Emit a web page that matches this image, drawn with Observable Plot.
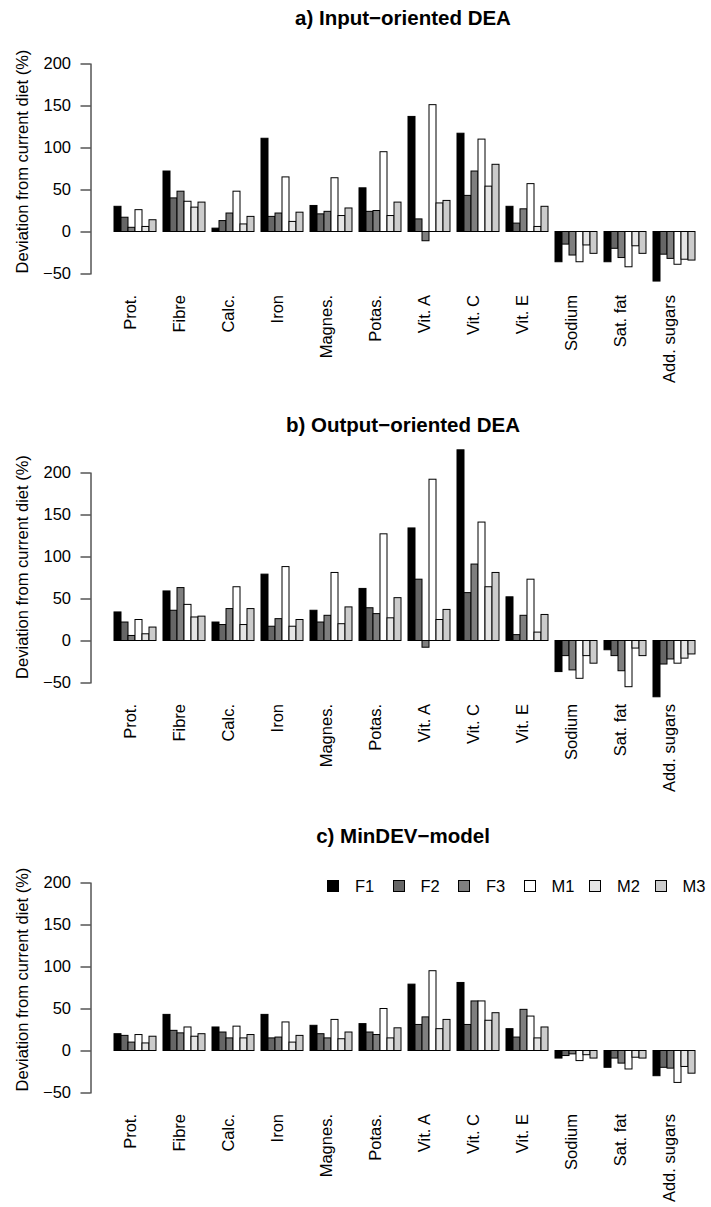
<!DOCTYPE html>
<html>
<head>
<meta charset="utf-8">
<script src="https://cdn.jsdelivr.net/npm/d3@7"></script>
<script src="https://cdn.jsdelivr.net/npm/@observablehq/plot@0.6"></script>
<style>
  html, body { margin: 0; padding: 0; background: #fff; }
  #root { position: relative; width: 711px; height: 1207px; overflow: hidden;
          font-family: "Liberation Sans", Arial, Helvetica, sans-serif; color: #000; }
  .panel { position: absolute; left: 0; }
  .title { position: absolute; left: 403px; transform: translateX(-50%); font-weight: bold;
           font-size: 20.5px; line-height: 20.5px; white-space: nowrap; }
  .legend { position: absolute; left: 327px; display: flex; font-size: 16.5px; line-height: 16.5px; }
  .item { width: 65.5px; display: flex; align-items: center; }
  .sw { width: 10px; height: 10px; border: 1px solid #000; margin-right: 16px; flex: none; }
</style>
</head>
<body>
<div id="root"></div>
<script>
// ---------- data ----------
const nutrients = ["Prot.", "Fibre", "Calc.", "Iron", "Magnes.", "Potas.", "Vit. A", "Vit. C", "Vit. E", "Sodium", "Sat. fat", "Add. sugars"];
const series = ["F1", "F2", "F3", "M1", "M2", "M3"];
const fills = ["#000000", "#666666", "#7f7f7f", "#ffffff", "#e5e5e5", "#cccccc"];
const yTicks = [-50, 0, 50, 100, 150, 200];
const yLabel = "Deviation from current diet (%)";
const titles = ["a) Input\u2212oriented DEA", "b) Output\u2212oriented DEA", "c) MinDEV\u2212model"];

// a) Input-oriented DEA
const inputF1 = [30, 72, 4, 111, 31, 52, 137, 117, 30, -36, -36, -59];
const inputF2 = [17, 40, 13, 18, 21, 24, 15, 43, 10, -15, -20, -27];
const inputF3 = [5, 48, 22, 22, 24, 25, -11, 72, 27, -28, -31, -32];
const inputM1 = [26, 36, 48, 65, 64, 95, 151, 110, 57, -36, -42, -39];
const inputM2 = [6, 29, 9, 12, 19, 19, 34, 54, 6, -16, -17, -33];
const inputM3 = [14, 35, 18, 23, 28, 35, 37, 80, 30, -26, -26, -34];

// b) Output-oriented DEA
const outputF1 = [34, 59, 22, 79, 36, 62, 134, 227, 52, -37, -11, -67];
const outputF2 = [22, 36, 19, 17, 22, 39, 73, 57, 7, -18, -18, -28];
const outputF3 = [6, 63, 38, 26, 30, 32, -8, 91, 30, -35, -36, -22];
const outputM1 = [25, 43, 64, 88, 81, 127, 192, 141, 73, -45, -55, -27];
const outputM2 = [8, 28, 19, 17, 20, 27, 25, 64, 10, -18, -9, -21];
const outputM3 = [16, 29, 38, 25, 40, 51, 37, 81, 31, -27, -18, -16];

// c) MinDEV-model
const mindevF1 = [20, 43, 28, 43, 30, 32, 79, 81, 26, -9, -20, -30];
const mindevF2 = [18, 24, 22, 15, 20, 22, 31, 31, 16, -6, -9, -20];
const mindevF3 = [10, 21, 15, 16, 15, 19, 40, 59, 49, -4, -15, -21];
const mindevM1 = [19, 28, 29, 34, 37, 50, 95, 59, 41, -12, -22, -38];
const mindevM2 = [9, 17, 15, 10, 14, 15, 26, 36, 15, -5, -8, -19];
const mindevM3 = [17, 20, 19, 18, 22, 27, 37, 45, 28, -9, -9, -27];

// ---------- build ----------
function rows(arrays) {
  const out = [];
  nutrients.forEach((n, i) => series.forEach((s, j) =>
    out.push({nutrient: n, series: s, key: n + "|" + s, value: arrays[j][i]})));
  return out;
}
const slotDomain = nutrients.flatMap(n => [n + "|gap", ...series.map(s => n + "|" + s)]);
const font = '"Liberation Sans", Arial, Helvetica, sans-serif';

function panel(arrays, cfg) {
  return Plot.plot({
    width: 711,
    height: cfg.height,
    marginTop: cfg.mt,
    marginBottom: cfg.mb,
    marginLeft: 90.5,
    marginRight: 10,
    style: {fontFamily: font, fontSize: "16.5px", color: "#000", background: "transparent", overflow: "visible"},
    x: {domain: slotDomain, range: [106.5, 694.5], padding: 0, axis: null},
    y: {domain: [-50, 200]},
    color: {domain: series, range: fills},
    marks: [
      Plot.barY(rows(arrays), {x: "key", y: "value", fill: "series", stroke: "#000", strokeWidth: 1, inset: 0}),
      Plot.axisY({ticks: yTicks, tickSize: 10, tickPadding: 10, label: null, fontSize: 16.5}),
      Plot.frame({anchor: "left", stroke: "#000"}),
      Plot.text(nutrients, {x: d => d + "|F3", dx: 3.5, frameAnchor: "bottom", dy: 21, rotate: -90,
                            textAnchor: "end", text: d => d, fontSize: 16.5}),
      Plot.text([yLabel], {frameAnchor: "left", textAnchor: "middle", dx: -68.5, dy: cfg.labelDy,
                           rotate: -90, fontSize: 16.5})
    ]
  });
}

const root = document.getElementById("root");
const cfgs = [
  {top: 0,   height: 400, mt: 63.5, mb: 126.5, labelDy: -7.5, titleTop: 7.6},
  {top: 400, height: 410, mt: 72.5, mb: 127.5, labelDy: -11, titleTop: 414.6},
  {top: 810, height: 397, mt: 72.5, mb: 114.5, labelDy: -8.5, titleTop: 825.6}
];
const data = [
  [inputF1, inputF2, inputF3, inputM1, inputM2, inputM3],
  [outputF1, outputF2, outputF3, outputM1, outputM2, outputM3],
  [mindevF1, mindevF2, mindevF3, mindevM1, mindevM2, mindevM3]
];
cfgs.forEach((cfg, i) => {
  const wrap = document.createElement("div");
  wrap.className = "panel";
  wrap.style.top = cfg.top + "px";
  wrap.appendChild(panel(data[i], cfg));
  root.appendChild(wrap);
  const t = document.createElement("div");
  t.className = "title";
  t.style.top = cfg.titleTop + "px";
  t.textContent = titles[i];
  root.appendChild(t);
});

// legend (panel c)
const legend = document.createElement("div");
legend.className = "legend";
legend.style.top = "878px";
series.forEach((s, j) => {
  const it = document.createElement("div");
  it.className = "item";
  const sw = document.createElement("div");
  sw.className = "sw";
  sw.style.background = fills[j];
  const lb = document.createElement("span");
  lb.textContent = s;
  it.appendChild(sw);
  it.appendChild(lb);
  legend.appendChild(it);
});
root.appendChild(legend);
</script>
</body>
</html>
